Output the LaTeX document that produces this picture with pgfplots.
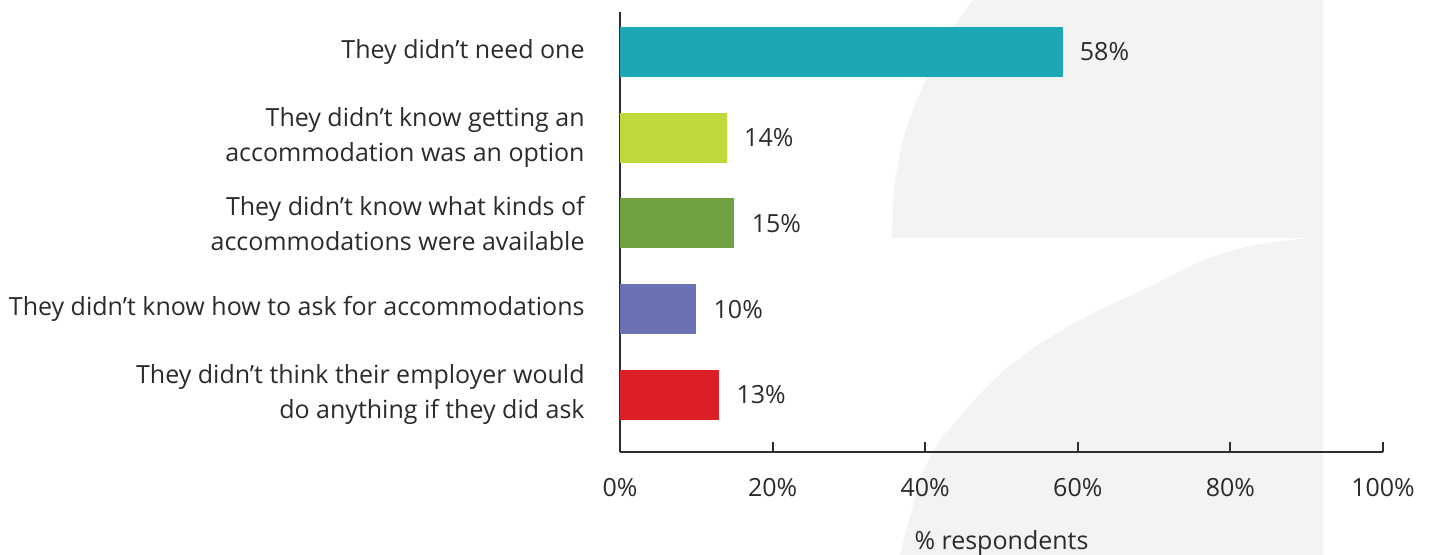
\documentclass[border=0pt]{standalone}
\usepackage{pgfplots}
\pgfplotsset{compat=1.18}
\usepackage{fontspec}
\setmainfont{Open Sans}
\definecolor{cTeal}{HTML}{1DA7B4}
\definecolor{cLime}{HTML}{C0D83A}
\definecolor{cGreen}{HTML}{70A040}
\definecolor{cPurple}{HTML}{6B71B5}
\definecolor{cRed}{HTML}{DA1F26}
\definecolor{bgGray}{HTML}{F3F3F3}
\definecolor{axisC}{HTML}{2E2E2E}
\definecolor{textC}{HTML}{2B2B2B}
\begin{document}
\begin{tikzpicture}
\useasboundingbox (-310pt,-51.5pt) rectangle (405.5pt,226pt);
% decorative background shape (pixel coordinates)
\begin{scope}[x=0.5pt,y=-0.5pt,shift={(-310pt,226pt)}]
\fill[bgGray] plot[smooth] coordinates {(892,238)(894,190)(903,140)(917,100)(942,45)(973,0)} -- (1323,0) -- (1323,238) -- cycle;
\fill[bgGray] plot[smooth, tension=0.6] coordinates {(1317,237)(1250,246)(1200,262)(1147,288)(1080,320)(1013,363)(963,413)(927,463)(900,555)} -- (1323,555) -- (1323,237) -- cycle;
\end{scope}
\begin{axis}[
  at={(0,0)}, anchor=south west,
  scale only axis, width=381.5pt, height=220pt,
  xbar, bar width=0.583, bar shift=0pt,
  xmin=0, xmax=100, ymin=-0.665, ymax=4.466,
  axis x line*=bottom, axis y line*=left,
  axis line style={draw=axisC, line width=1pt},
  xtick={0,20,40,60,80,100},
  xticklabel={\pgfmathprintnumber{\tick}\%},
  tick align=inside, major tick length=5pt,
  xtick style={draw=axisC, line width=1pt},
  ytick={0,1,2,3,4},
  yticklabels={{They didn’t think their employer would\\do anything if they did ask},
               {They didn’t know how to ask for accommodations},
               {They didn’t know what kinds of\\accommodations were available},
               {They didn’t know getting an\\accommodation was an option},
               {They didn’t need one}},
  ytick style={draw=none},
  /pgf/number format/assume math mode=true,
  tick label style={font=\fontsize{12.5}{17.5}\selectfont, text=textC},
  yticklabel style={align=right, anchor=east, inner sep=0pt, xshift=-17.5pt},
  xticklabel style={anchor=base, inner sep=0pt, yshift=-22.5pt},
  xlabel={\% respondents},
  xlabel style={at={(axis description cs:0.5,0)}, anchor=base, inner sep=0pt, yshift=-49pt, font=\fontsize{12.5}{14}\selectfont, text=textC},
  nodes near coords={\pgfmathprintnumber{\pgfplotspointmeta}\%},
  point meta=x,
  nodes near coords style={anchor=west, inner sep=0pt, xshift=8.5pt, font=\fontsize{12.5}{14}\selectfont, text=textC},
  clip=false,
]
\addplot[fill=cRed, draw=none] coordinates {(13,0)};
\addplot[fill=cPurple, draw=none] coordinates {(10,1)};
\addplot[fill=cGreen, draw=none] coordinates {(15,2)};
\addplot[fill=cLime, draw=none] coordinates {(14,3)};
\addplot[fill=cTeal, draw=none] coordinates {(58,4)};
\end{axis}
\end{tikzpicture}
\end{document}
